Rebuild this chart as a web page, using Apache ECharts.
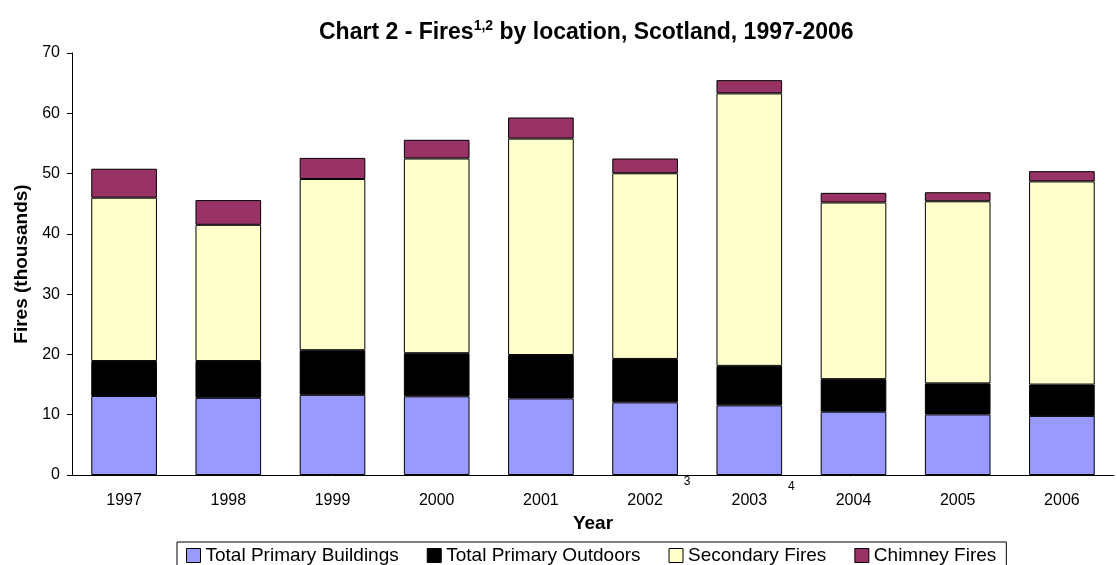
<!DOCTYPE html>
<html>
<head>
<meta charset="utf-8">
<title>Fires by location, Scotland</title>
<script src="https://cdn.jsdelivr.net/npm/echarts@6/dist/echarts.min.js"></script>
<style>
  html, body { margin: 0; padding: 0; background: #fff; }
  #chart { width: 1117px; height: 565px; }
</style>
</head>
<body>
<div id="chart"></div>
<script>
// values in thousands
var years = ['1997', '1998', '1999', '2000', '2001', '2002', '2003', '2004', '2005', '2006']
var primaryBuildings = [13.1, 12.8, 13.3, 13.05, 12.7, 12.05, 11.55, 10.5, 10.05, 9.8]
var primaryOutdoors = [5.8, 6.1, 7.4, 7.15, 7.2, 7.2, 6.55, 5.4, 5.15, 5.2]
var secondaryFires = [27.1, 22.6, 28.4, 32.3, 35.9, 30.8, 45.2, 29.3, 30.2, 33.7]
var chimneyFires = [4.8, 4.1, 3.5, 3.1, 3.5, 2.45, 2.2, 1.6, 1.5, 1.7]
var yTicks = {min: 0, max: 70, interval: 10}
// footnote marks next to some year labels
var footnotes = [{year: '2002', mark: '3', dy: 7}, {year: '2003', mark: '4', dy: 12}]

var font = "'Liberation Sans', Arial, sans-serif"

function barSeries (name, data, color) {
  return {
    name: name,
    type: 'bar',
    stack: 'fires',
    barCategoryGap: '37%',
    data: data,
    itemStyle: {color: color, borderColor: '#000', borderWidth: 1},
    emphasis: {disabled: true}
  }
}

var myChart = echarts.init(document.getElementById('chart'))
myChart.setOption({
  animation: false,
  backgroundColor: '#fff',
  textStyle: {fontFamily: font, color: '#000'},
  title: {
    left: 319,
    top: 19,
    padding: 0,
    text: '{a|Chart 2 - Fires}{s|1,2}{a| by location, Scotland, 1997-2006}',
    textStyle: {
      rich: {
        a: {fontFamily: font, fontSize: 23, fontWeight: 'bold', color: '#000', lineHeight: 28},
        s: {fontFamily: font, fontSize: 14, fontWeight: 'bold', color: '#000', lineHeight: 16, verticalAlign: 'top'}
      }
    }
  },
  legend: {
    left: 177,
    top: 542,
    padding: [4, 10, 4, 9],
    borderColor: '#000',
    borderWidth: 1,
    itemGap: 28,
    itemWidth: 14,
    itemHeight: 14,
    icon: 'rect',
    selectedMode: false,
    itemStyle: {borderColor: '#000', borderWidth: 1},
    textStyle: {fontFamily: font, fontSize: 19, color: '#000'},
    data: ['Total Primary Buildings', 'Total Primary Outdoors', 'Secondary Fires', 'Chimney Fires']
  },
  grid: {left: 72, right: 3, top: 53, bottom: 90},
  xAxis: {
    type: 'category',
    data: years,
    name: 'Year',
    nameLocation: 'middle',
    nameGap: 39,
    nameTextStyle: {fontFamily: font, fontSize: 19, fontWeight: 'bold', color: '#000'},
    axisLine: {lineStyle: {color: '#000', width: 1}},
    axisTick: {length: 6, lineStyle: {color: '#000'}},
    axisLabel: {margin: 18, fontFamily: font, fontSize: 16, color: '#000'}
  },
  yAxis: {
    type: 'value',
    min: yTicks.min,
    max: yTicks.max,
    interval: yTicks.interval,
    name: 'Fires (thousands)',
    nameLocation: 'middle',
    nameGap: 36,
    nameTextStyle: {fontFamily: font, fontSize: 19, fontWeight: 'bold', color: '#000'},
    axisLine: {show: true, lineStyle: {color: '#000', width: 1}},
    axisTick: {show: true, length: 5, lineStyle: {color: '#000'}},
    axisLabel: {margin: 12, fontFamily: font, fontSize: 16, color: '#000'},
    splitLine: {show: false}
  },
  series: [
    barSeries('Total Primary Buildings', primaryBuildings, '#9999FF'),
    barSeries('Total Primary Outdoors', primaryOutdoors, '#000000'),
    barSeries('Secondary Fires', secondaryFires, '#FFFFCC'),
    barSeries('Chimney Fires', chimneyFires, '#993366')
  ]
})

// place the footnote numbers beside their year labels
var axisY = myChart.convertToPixel({yAxisIndex: 0}, 0)
myChart.setOption({
  graphic: footnotes.map(function (f) {
    var cx = myChart.convertToPixel({xAxisIndex: 0}, f.year)
    return {
      type: 'text',
      x: cx + 42,
      y: axisY + f.dy,
      style: {text: f.mark, font: '12px ' + font, fill: '#000', align: 'center', verticalAlign: 'middle'}
    }
  })
})
</script>
</body>
</html>
